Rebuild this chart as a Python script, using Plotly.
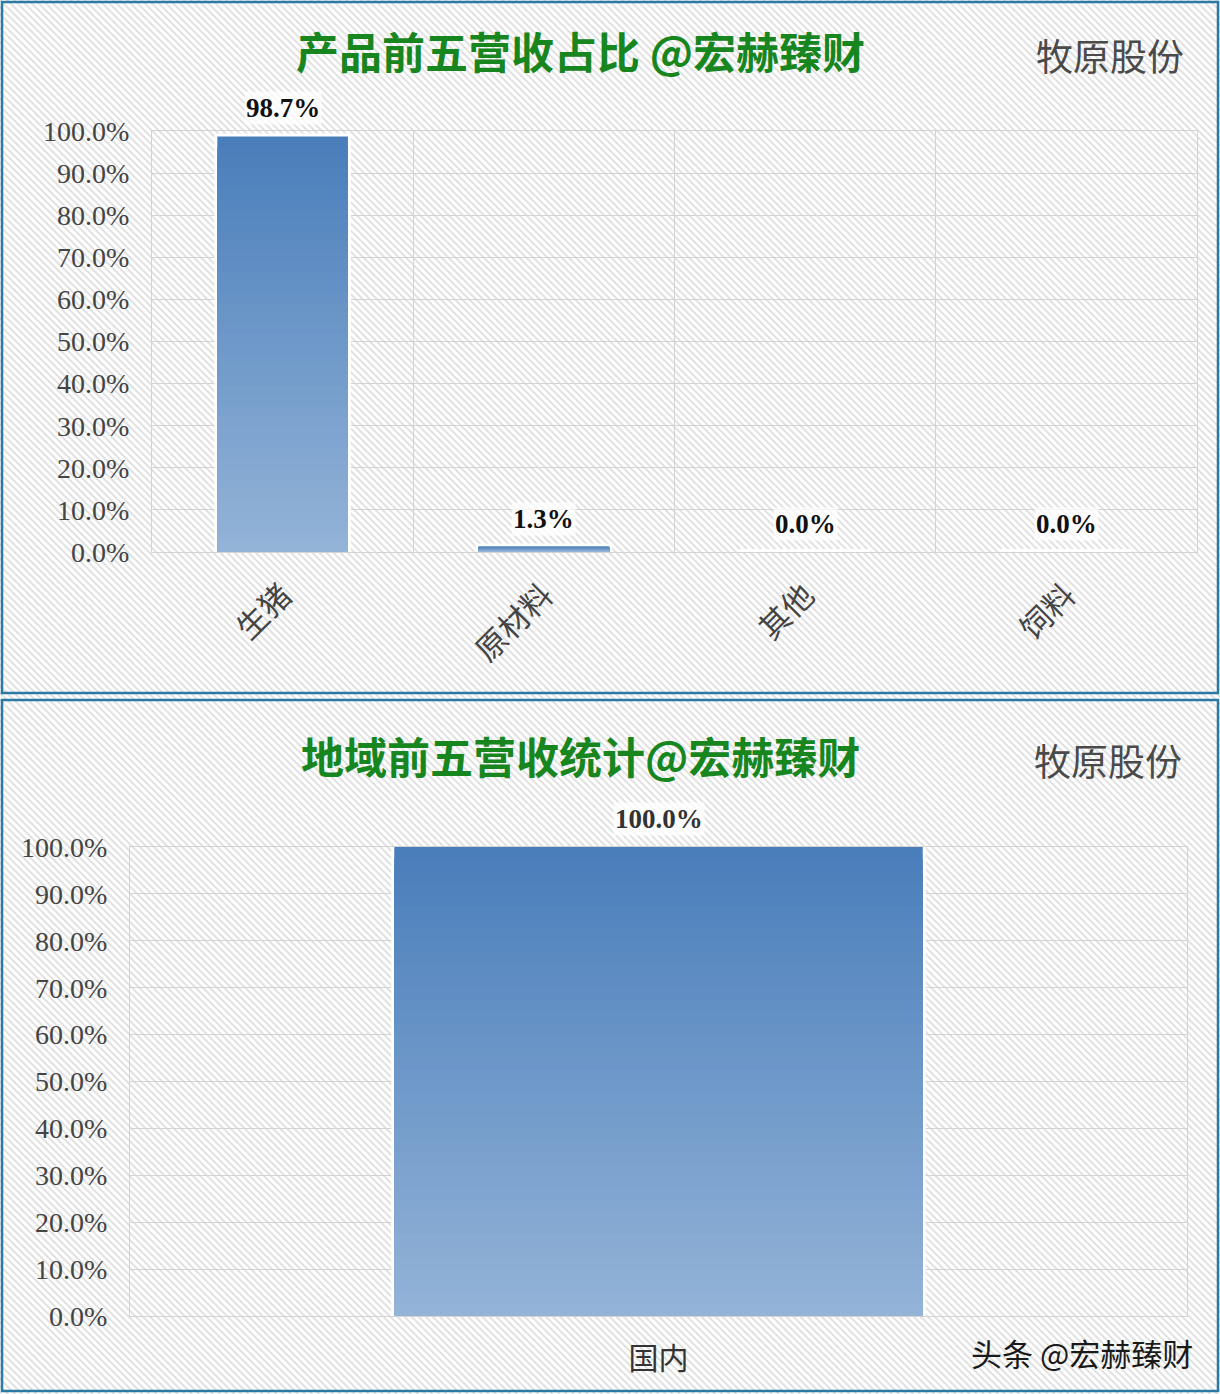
import plotly.graph_objects as go

# ---------------- data ----------------
product_categories = ["生猪", "原材料", "其他", "饲料"]
product_values = [98.7, 1.3, 0.0, 0.0]

region_categories = ["国内"]
region_values = [100.0]

y_tick_values = [0, 10, 20, 30, 40, 50, 60, 70, 80, 90, 100]

title_top = "产品前五营收占比 @宏赫臻财"
title_bottom = "地域前五营收统计@宏赫臻财"
company = "牧原股份"
watermark = "头条 @宏赫臻财"

# ---------------- styling helpers ----------------
W, H = 1220, 1394
N_SEG = 40
DARK = (74, 126, 187)
LIGHT = (147, 179, 215)


def px_x(p):
    return p / W


def px_y(p):
    return 1 - p / H


def seg_color(k):
    t = k / (N_SEG - 1)  # 0 bottom -> 1 top
    c = [round(LIGHT[i] + (DARK[i] - LIGHT[i]) * t) for i in range(3)]
    return f"rgb({c[0]},{c[1]},{c[2]})"


CJK = "Noto Sans CJK SC"
SERIF = "Liberation Serif"

fig = go.Figure()

# decorative hatched background
fig.add_trace(go.Scatter(
    x=[0, 1, 1, 0, 0], y=[0, 0, 1, 1, 0], fill="toself", mode="none",
    fillpattern=dict(shape="\\", size=5, solidity=0.35, fgcolor="#bcbcbc", bgcolor="#ffffff"),
    hoverinfo="skip", showlegend=False, xaxis="x", yaxis="y",
))

# white halo behind each bar
halo = dict(color="rgba(255,255,255,0.95)", line=dict(color="rgba(255,255,255,0.95)", width=6))
fig.add_trace(go.Bar(x=product_categories, y=product_values, marker=halo,
                     xaxis="x2", yaxis="y2", showlegend=False, hoverinfo="skip"))
fig.add_trace(go.Bar(x=region_categories, y=region_values, marker=halo,
                     xaxis="x3", yaxis="y3", showlegend=False, hoverinfo="skip"))

# vertical gradient: overlaid bars, full height (darkest) first, shorter lighter ones on top
for k in range(N_SEG):
    frac = (N_SEG - k) / N_SEG
    col = seg_color(N_SEG - 1 - k)
    fig.add_trace(go.Bar(
        x=product_categories, y=[v * frac for v in product_values],
        marker=dict(color=col, line=dict(width=0)),
        xaxis="x2", yaxis="y2", showlegend=False, hoverinfo="skip",
    ))
    fig.add_trace(go.Bar(
        x=region_categories, y=[v * frac for v in region_values],
        marker=dict(color=col, line=dict(width=0)),
        xaxis="x3", yaxis="y3", showlegend=False, hoverinfo="skip",
    ))

annotations = []
for c, v in zip(product_categories, product_values):
    annotations.append(dict(
        x=c, y=v, xref="x2", yref="y2", text=f"{v:.1f}%", showarrow=False,
        yanchor="bottom", yshift=11, bgcolor="rgba(255,255,255,0.75)",
        font=dict(family=SERIF, size=27, color="#111111", weight="bold"),
    ))
for c, v in zip(region_categories, region_values):
    annotations.append(dict(
        x=c, y=v, xref="x3", yref="y3", text=f"{v:.1f}%", showarrow=False,
        yanchor="bottom", yshift=11, bgcolor="rgba(255,255,255,0.75)",
        font=dict(family=SERIF, size=27, color="#333333", weight="bold"),
    ))

title_font = dict(family=CJK, size=43, color="#17861f", weight="bold")
comp_font = dict(family=CJK, size=37, color="#4a4a4a")
annotations += [
    dict(x=px_x(580), y=px_y(50), xref="paper", yref="paper", text=title_top,
         showarrow=False, font=title_font, xanchor="center", yanchor="middle"),
    dict(x=px_x(1110), y=px_y(55), xref="paper", yref="paper", text=company,
         showarrow=False, font=comp_font, xanchor="center", yanchor="middle"),
    dict(x=px_x(580), y=px_y(755), xref="paper", yref="paper", text=title_bottom,
         showarrow=False, font=title_font, xanchor="center", yanchor="middle"),
    dict(x=px_x(1108), y=px_y(760), xref="paper", yref="paper", text=company,
         showarrow=False, font=comp_font, xanchor="center", yanchor="middle"),
    dict(x=px_x(1082), y=px_y(1352), xref="paper", yref="paper", text=watermark,
         showarrow=False, font=dict(family=CJK, size=31, color="#1a1a1a"),
         xanchor="center", yanchor="middle"),
]

shapes = [
    dict(type="rect", xref="paper", yref="paper",
         x0=px_x(2), x1=px_x(1218), y0=px_y(693), y1=px_y(2),
         line=dict(color="#2b7aa3", width=2.5)),
    dict(type="rect", xref="paper", yref="paper",
         x0=px_x(2), x1=px_x(1218), y0=px_y(1391), y1=px_y(700),
         line=dict(color="#2b7aa3", width=2.5)),
]

GRID = "#d3d3d3"
ytick_text = [f"{v:.1f}%" for v in y_tick_values]
yax_common = dict(
    range=[0, 100], tickvals=y_tick_values, ticktext=ytick_text,
    showgrid=True, gridcolor=GRID, gridwidth=1, zeroline=False,
    showline=True, linecolor=GRID, mirror=True, ticks="",
    tickfont=dict(family=SERIF, size=28, color="#444444"),
    ticklabelstandoff=16, fixedrange=True, automargin=False,
)
xax_common = dict(
    type="category", tickson="boundaries", showgrid=True, gridcolor=GRID,
    showline=True, linecolor=GRID, mirror=True, ticks="", fixedrange=True,
    automargin=False,
)

fig.update_layout(
    width=W, height=H, margin=dict(l=0, r=0, t=0, b=0, autoexpand=False),
    paper_bgcolor="#ffffff", plot_bgcolor="rgba(0,0,0,0)",
    barmode="overlay", showlegend=False,
    xaxis=dict(domain=[0, 1], range=[0, 1], visible=False, fixedrange=True, automargin=False),
    yaxis=dict(domain=[0, 1], range=[0, 1], visible=False, fixedrange=True, automargin=False),
    xaxis2=dict(domain=[px_x(152), px_x(1197)], anchor="y2",
                tickangle=-45, ticklabelstandoff=12,
                tickfont=dict(family=CJK, size=31, color="#444444"),
                **xax_common),
    yaxis2=dict(domain=[px_y(552), px_y(131)], anchor="x2", **yax_common),
    xaxis3=dict(domain=[px_x(130), px_x(1187)], anchor="y3",
                tickangle=0, ticklabelstandoff=16,
                tickfont=dict(family=CJK, size=30, color="#333333"),
                **xax_common),
    yaxis3=dict(domain=[px_y(1316), px_y(847)], anchor="x3", **yax_common),
    bargap=0.5,
    annotations=annotations, shapes=shapes,
)

fig.write_html(
    "out.html",
    config={"displayModeBar": False},
    post_script="document.body.style.margin='0px';document.body.style.overflow='hidden';",
)
